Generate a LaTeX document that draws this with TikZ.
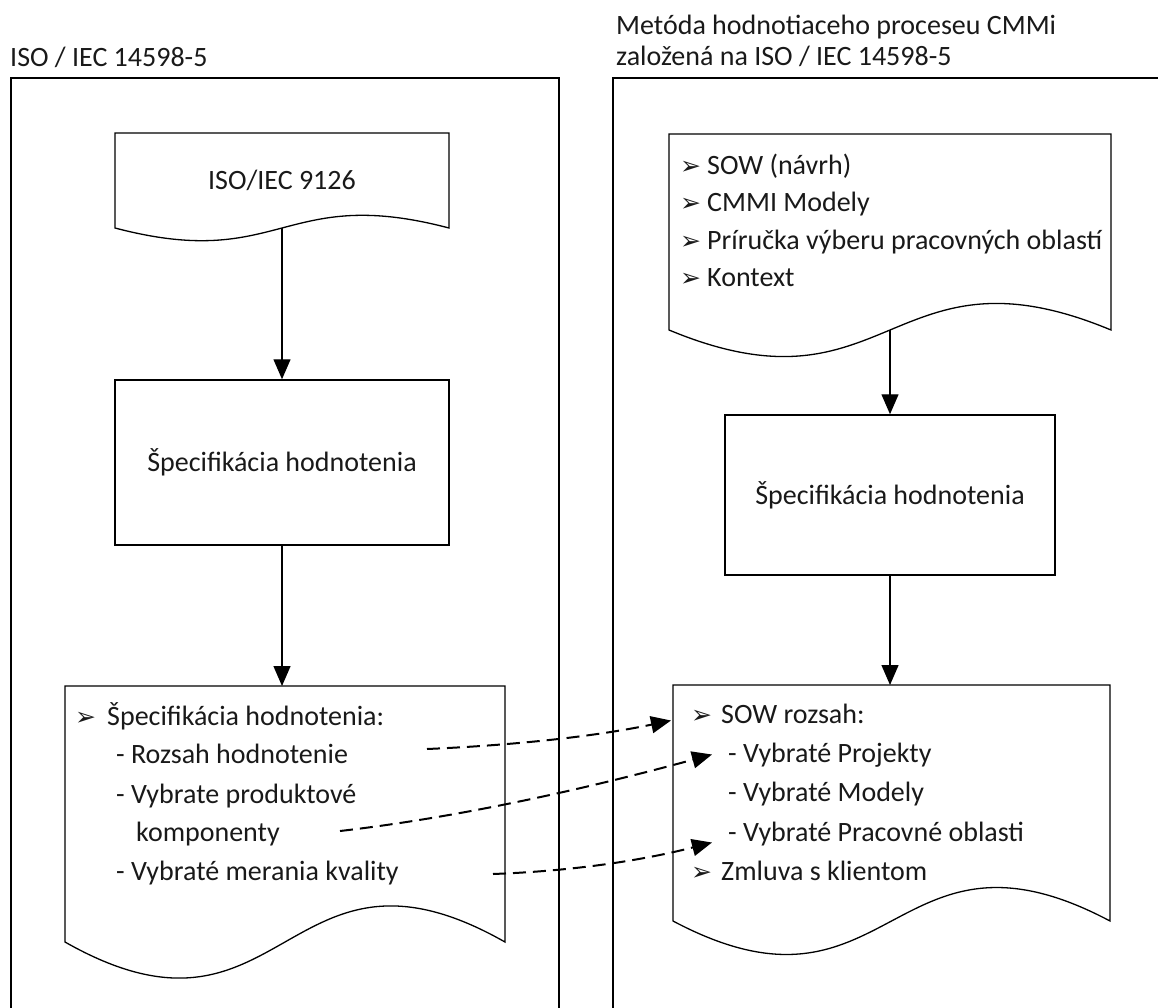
\documentclass[tikz,border=0pt]{standalone}
\usepackage{fontspec}
\setmainfont{Carlito}
\newfontfamily\arrowfont{DejaVu Sans}
\usetikzlibrary{arrows.meta,calc}
\tikzset{
  flow/.style={line width=1.4pt,-{Triangle[length=20pt,width=17pt]}},
  link/.style={line width=2pt,dash pattern=on 13pt off 7pt,-{Triangle[length=20pt,width=17pt]}},
  frame/.style={line width=1.5pt},
  docline/.style={line width=1.3pt},
  procbox/.style={draw,line width=1.5pt,inner sep=0pt},
  txt/.style={inner sep=0pt,anchor=base west}
}
\newcommand\bul[1]{\makebox[#1][l]{\arrowfont\fontsize{25}{25}\selectfont ➢}}

\begin{document}
\begin{tikzpicture}[x=1pt,y=-1pt,font=\fontsize{28}{34}\selectfont,text=black!90]
  \useasboundingbox (0,0) rectangle (1158,1008);
  % column frames and titles
  \draw[frame] (11,1008) -- (11,78) -- (559,78) -- (559,1008);
  \draw[frame] (613,1008) -- (613,78) -- (1158,78);
  \node[txt] (isoHdr) at (10,67) {ISO / IEC 14598-5};
  \node[txt] (cmmiHdr) at (616,35) {Metóda hodnotiaceho proceseu CMMi};
  \node[txt] (cmmiHdrB) at (616,66) {založená na ISO / IEC 14598-5};

  % left column: document, process, document
  \draw[docline] (115,228) -- (115,133) -- (449,133) -- (449,228)
    .. controls (282,184) and (282,272) .. (115,228) -- cycle;
  \coordinate (isoOut) at (282,228);
  \node (isoStd) at (282,180) {ISO/IEC 9126};
  \node[procbox,minimum width=334pt,minimum height=165pt] (specL) at (282,462.5) {Špecifikácia hodnotenia};
  \draw[docline] (65,942) -- (65,686) -- (505,686) -- (505,942)
    .. controls (285,817) and (285,1067) .. (65,942) -- cycle;
  \coordinate (specDocIn) at (282,686);
  \node[txt] (specHead) at (75,725.5) {\bul{32pt}Špecifikácia hodnotenia:};
  \node[txt] (rozsah) at (116,763.5) {- Rozsah hodnotenie};
  \node[txt] (produkt) at (116,803.5) {- Vybrate produktové};
  \node[txt] (komp) at (136,841.5) {komponenty};
  \node[txt] (kvalita) at (116,880.5) {- Vybraté merania kvality};

  % right column: document, process, document
  \draw[docline] (669,330) -- (669,134) -- (1111,134) -- (1111,330)
    .. controls (890,238) and (890,422) .. (669,330) -- cycle;
  \coordinate (sowOut) at (890,330);
  \node[txt] (sowDraft) at (680,175) {\bul{27pt}SOW (návrh)};
  \node[txt] (cmmiMod) at (680,212) {\bul{27pt}CMMI Modely};
  \node[txt] (prirucka) at (680,249) {\bul{27pt}Príručka výberu pracovných oblastí};
  \node[txt] (kontext) at (680,286) {\bul{27pt}Kontext};
  \node[procbox,minimum width=330pt,minimum height=160pt] (specR) at (890,495) {Špecifikácia hodnotenia};
  \draw[docline] (673,921) -- (673,685) -- (1110,685) -- (1110,921)
    .. controls (891.5,805) and (891.5,1037) .. (673,921) -- cycle;
  \coordinate (sowDocIn) at (890,685);
  \node[txt] (sowRozsah) at (691,723.5) {\bul{30pt}SOW rozsah:};
  \node[txt] (projekty) at (728,762.5) {- Vybraté Projekty};
  \node[txt] (modely) at (728,801.5) {- Vybraté Modely};
  \node[txt] (pracovne) at (728,841.5) {- Vybraté Pracovné oblasti};
  \node[txt] (zmluva) at (691,880.5) {\bul{30pt}Zmluva s klientom};

  % flow
  \draw[flow] (isoOut) -- (specL.north);
  \draw[flow] (specL.south) -- (specDocIn);
  \draw[flow] (sowOut) -- (specR.north);
  \draw[flow] (specR.south) -- (sowDocIn);

  % mapping between the two methods
  \coordinate (rozsahOut) at (427,749);
  \coordinate (kompOut) at (340,831);
  \coordinate (kvalOut) at (493,874);
  \draw[link] (rozsahOut) .. controls +(93,-4) and +(-71,15) .. ($(sowRozsah.base west)+(-20,-3)$);
  \draw[link] (kompOut) .. controls +(130,-15) and +(-110,30) .. ($(projekty.base west)+(-16,-8)$);
  \draw[link] (kvalOut) .. controls +(80,-3) and +(-70,18) .. ($(pracovne.base west)+(-16,1)$);
\end{tikzpicture}
\end{document}
